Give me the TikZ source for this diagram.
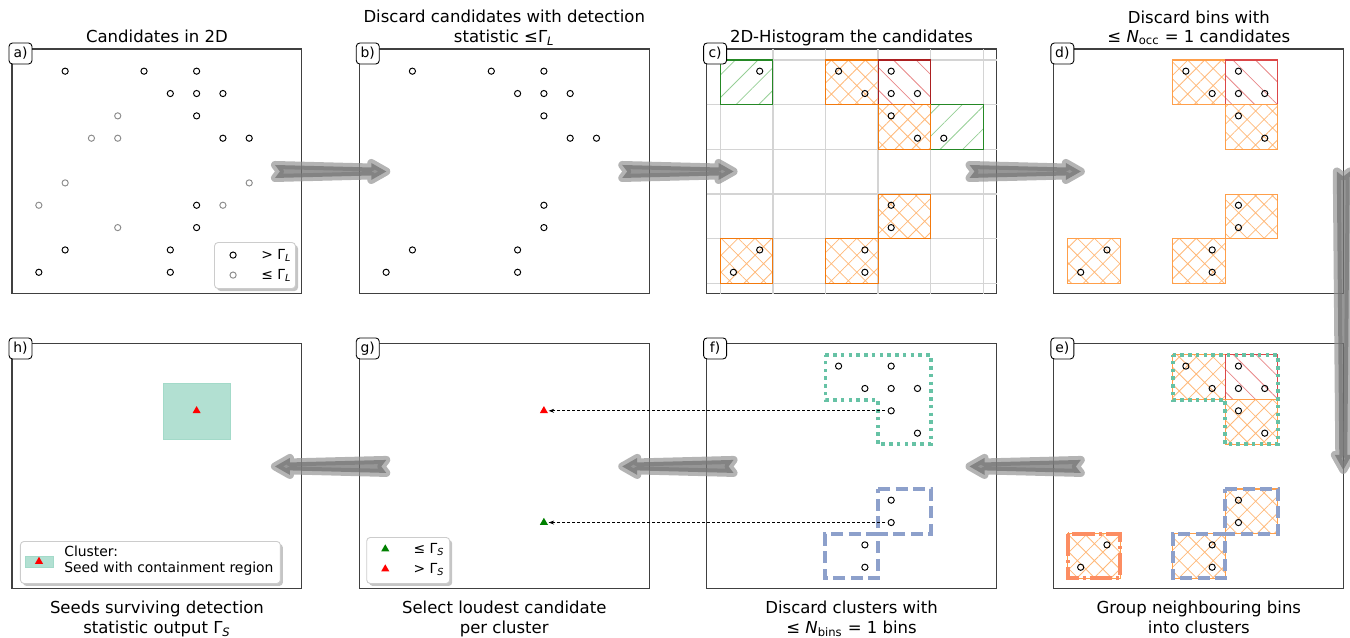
\documentclass[tikz,border=0pt]{standalone}
\usepackage{fontspec}
\setmainfont{DejaVu Sans}
\usetikzlibrary{positioning, calc, arrows.meta, shapes.geometric, patterns.meta, shadows}

\definecolor{binorange}{HTML}{FF7F0E}
\definecolor{binred}{HTML}{D62728}
\definecolor{bingreen}{HTML}{2CA02C}
\definecolor{clteal}{HTML}{66C2A5}
\definecolor{clblue}{HTML}{8DA0CB}
\definecolor{clsalmon}{HTML}{FC8D62}

% candidate positions (i/j on the half-bin grid)
\newcommand{\candhigh}{1/0,4/0,6/0,5/1,6/1,7/1,6/2,7/3,8/3,6/6,6/7,1/8,5/8,0/9,5/9}
\newcommand{\candlow}{3/2,2/3,3/3,1/5,8/5,0/6,7/6,3/7}
\newcommand{\candbins}{4/0,6/0,5/1,6/1,7/1,6/2,7/3,6/6,6/7,1/8,5/8,0/9,5/9}
\newcommand{\candclus}{4/0,6/0,5/1,6/1,7/1,6/2,7/3,6/6,6/7,5/8,5/9}

% big grey step arrow between two coordinates
\newcommand{\flowarrow}[2]{%
  \coordinate (fa-n) at ($(#1)!0.1cm!(#2)$);
  \coordinate (fa-b) at ($(#2)!0.3cm!(#1)$);
  \path[flow] ($(#1)!0.13cm!90:(#2)$) -- (fa-n) -- ($(#1)!0.13cm!-90:(#2)$)
    -- ($(fa-b)!0.08cm!-90:(#2)$) -- ($(fa-b)!0.17cm!-90:(#2)$) -- (#2)
    -- ($(fa-b)!0.17cm!90:(#2)$) -- ($(fa-b)!0.08cm!90:(#2)$) -- cycle;
}

\tikzset{
    panel/.style={
        rectangle, draw=black!75, line width=0.6pt,
        minimum width=5.8cm, minimum height=4.9cm,
        inner sep=0pt, outer sep=0pt
    },
    paneltag/.style={
        rectangle, rounded corners=2pt, draw=black, fill=white, line width=0.5pt,
        minimum width=0.46cm, minimum height=0.42cm, inner sep=0pt,
        font=\fontsize{7.9}{9}\selectfont
    },
    headline/.style={font=\fontsize{9.4}{11.2}\selectfont, align=center, inner sep=0pt},
    legendbox/.style={
        rectangle, rounded corners=2pt, draw=black!20, fill=white, line width=0.5pt,
        inner sep=0pt,
        drop shadow={shadow xshift=0.05cm, shadow yshift=-0.05cm, fill=black!45, opacity=0.5}
    },
    legendtext/.style={font=\fontsize{7.9}{9}\selectfont, inner sep=0pt, align=left},
    binframe/.style={shift={(#1.north west)}, xshift=0.274cm, yshift=-0.22cm, x=1.052cm, y=-0.894cm},
    candmark/.style={draw=black, line width=0.55pt},
    candfaint/.style={draw=black!45, line width=0.55pt},
    gridline/.style={draw=black!17, line width=0.8pt},
    binor/.style={
        draw=binorange!95!black, line width=0.6pt,
        pattern={Hatch[angle=45, distance=0.24cm, line width=0.45pt]}, pattern color=binorange!55
    },
    binrd/.style={
        draw=binred!80!black, line width=0.6pt,
        pattern={Lines[angle=-45, distance=0.32cm, line width=0.45pt]}, pattern color=binred!55
    },
    bingn/.style={
        draw=bingreen!85!black, line width=0.6pt,
        pattern={Lines[angle=45, distance=0.32cm, line width=0.45pt]}, pattern color=bingreen!50
    },
    binorlt/.style={binor, draw=binorange!75},
    binrdlt/.style={binrd, draw=binred!85},
    clusa/.style={draw=clteal, line width=0.075cm, dash pattern=on 0.07cm off 0.085cm},
    clusb/.style={draw=clblue, line width=0.08cm, dash pattern=on 0.24cm off 0.11cm},
    clusc/.style={draw=clsalmon, line width=0.08cm, dash pattern=on 0.45cm off 0.08cm on 0.06cm off 0.08cm},
    seedregion/.style={fill=clteal!50, draw=clteal!60, line width=0.3pt},
    seed/.style={regular polygon, regular polygon sides=3, minimum size=0.19cm, inner sep=0pt, outer sep=0pt},
    seedhi/.style={seed, fill=red},
    seedlo/.style={seed, fill=green!50!black},
    link/.style={
        draw=black, line width=0.5pt, dash pattern=on 0.06cm off 0.04cm,
        -{Stealth[length=0.11cm, width=0.08cm]}, shorten <=0.12cm, shorten >=0.04cm
    },
    flow/.style={
        fill=black!55, fill opacity=0.75,
        preaction={draw=black!42, line width=0.16cm, line join=round, draw opacity=0.7}
    }
}

\begin{document}
\begin{tikzpicture}[x=0.02cm, y=-0.02cm, node distance=1cm and 1.147cm]
\useasboundingbox (0,0) rectangle (1350,637);

% Panels (top row a-d, bottom row h-e)
\node[panel, anchor=north west] (pa) at (12,49) {};
\node[panel, right=of pa] (pb) {};
\node[panel, right=of pb] (pc) {};
\node[panel, right=of pc] (pd) {};
\node[panel, below=of pa] (ph) {};
\node[panel, right=of ph] (pg) {};
\node[panel, right=of pg] (pf) {};
\node[panel, right=of pf] (pe) {};

% Titles and captions
\node[headline, above=0.12cm of pa] (ha) {Candidates in 2D};
\node[headline, above=0.06cm of pb] (hb) {Discard candidates with detection\\statistic ≤Γ\textsubscript{\itshape L}};
\node[headline, above=0.05cm of pc] (hc) {2D-Histogram the candidates};
\node[headline, above=0.08cm of pd] (hd) {Discard bins with\\≤ \textit{N}\textsubscript{occ} = 1 candidates};
\node[headline, below=0.24cm of ph] (ch) {Seeds surviving detection\\statistic output Γ\textsubscript{\itshape S}};
\node[headline, below=0.24cm of pg] (cg) {Select loudest candidate\\per cluster};
\node[headline, below=0.24cm of pf] (cf) {Discard clusters with\\≤ \textit{N}\textsubscript{bins} = 1 bins};
\node[headline, below=0.24cm of pe] (ce) {Group neighbouring bins\\into clusters};

% a) all candidates
\begin{scope}[binframe=pa]
  \foreach \i/\j in \candhigh \draw[candmark] ({\i/2+0.25},{\j/2+0.25}) circle (0.062cm);
  \foreach \i/\j in \candlow \draw[candfaint] ({\i/2+0.25},{\j/2+0.25}) circle (0.062cm);
\end{scope}
\node[legendbox, anchor=south east, minimum width=1.62cm, minimum height=0.92cm] (la) at ([xshift=-0.12cm, yshift=0.1cm]pa.south east) {};
\draw[candmark] ([xshift=0.38cm, yshift=-0.26cm]la.north west) circle (0.062cm);
\draw[candfaint] ([xshift=0.38cm, yshift=-0.66cm]la.north west) circle (0.062cm);
\node[legendtext, anchor=west] (la1) at ([xshift=0.94cm, yshift=-0.27cm]la.north west) {> Γ\textsubscript{\itshape L}};
\node[legendtext, anchor=west] (la2) at ([xshift=0.94cm, yshift=-0.67cm]la.north west) {≤ Γ\textsubscript{\itshape L}};

% b) loud candidates only
\begin{scope}[binframe=pb]
  \foreach \i/\j in \candhigh \draw[candmark] ({\i/2+0.25},{\j/2+0.25}) circle (0.062cm);
\end{scope}

% c) histogram
\begin{scope}[binframe=pc]
  \foreach \gx in {0,...,5} {
    \draw[gridline] (\gx,-0.246) -- (\gx,5.235);
    \draw[gridline] (-0.26,\gx) -- (5.253,\gx);
  }
  \draw[bingn] (0,0) rectangle (1,1);
  \draw[bingn] (4,1) rectangle (5,2);
  \draw[binor] (2,0) rectangle (3,1);
  \draw[binrd] (3,0) rectangle (4,1);
  \draw[binor] (3,1) rectangle (4,2);
  \draw[binor] (3,3) rectangle (4,4);
  \draw[binor] (0,4) rectangle (1,5);
  \draw[binor] (2,4) rectangle (3,5);
  \foreach \i/\j in \candhigh \draw[candmark] ({\i/2+0.25},{\j/2+0.25}) circle (0.062cm);
\end{scope}

% d) occupied bins
\begin{scope}[binframe=pd]
  \draw[binorlt] (2,0) rectangle (3,1);
  \draw[binrdlt] (3,0) rectangle (4,1);
  \draw[binorlt] (3,1) rectangle (4,2);
  \draw[binorlt] (3,3) rectangle (4,4);
  \draw[binorlt] (0,4) rectangle (1,5);
  \draw[binorlt] (2,4) rectangle (3,5);
  \foreach \i/\j in \candbins \draw[candmark] ({\i/2+0.25},{\j/2+0.25}) circle (0.062cm);
\end{scope}

% e) clusters
\begin{scope}[binframe=pe]
  \draw[binorlt] (2,0) rectangle (3,1);
  \draw[binrdlt] (3,0) rectangle (4,1);
  \draw[binorlt] (3,1) rectangle (4,2);
  \draw[binorlt] (3,3) rectangle (4,4);
  \draw[binorlt] (0,4) rectangle (1,5);
  \draw[binorlt] (2,4) rectangle (3,5);
  \draw[clusa] (2,0) -- (4,0) -- (4,2) -- (3,2) -- (3,1) -- (2,1) -- cycle;
  \draw[clusb] (3,3) -- (4,3) -- (4,4) -- (3,4) -- (3,5) -- (2,5) -- (2,4) -- (3,4) -- cycle;
  \draw[clusc] (0,4) rectangle (1,5);
  \foreach \i/\j in \candbins \draw[candmark] ({\i/2+0.25},{\j/2+0.25}) circle (0.062cm);
\end{scope}

% f) surviving clusters
\begin{scope}[binframe=pf]
  \draw[clusa] (2,0) -- (4,0) -- (4,2) -- (3,2) -- (3,1) -- (2,1) -- cycle;
  \draw[clusb] (3,3) -- (4,3) -- (4,4) -- (3,4) -- (3,5) -- (2,5) -- (2,4) -- (3,4) -- cycle;
  \foreach \i/\j in \candclus \draw[candmark] ({\i/2+0.25},{\j/2+0.25}) circle (0.062cm);
  \coordinate (fhi) at (3.25,1.25);
  \coordinate (flo) at (3.25,3.75);
\end{scope}

% g) loudest per cluster
\begin{scope}[binframe=pg]
  \node[seedhi] (ghi) at (3.25,1.25) {};
  \node[seedlo] (glo) at (3.25,3.75) {};
\end{scope}
\draw[link] (fhi) -- (ghi);
\draw[link] (flo) -- (glo);
\node[legendbox, anchor=south west, minimum width=1.66cm, minimum height=0.92cm] (lg) at ([xshift=0.14cm, yshift=0.1cm]pg.south west) {};
\node[seedlo] (lg-lo) at ([xshift=0.38cm, yshift=-0.24cm]lg.north west) {};
\node[seedhi] (lg-hi) at ([xshift=0.38cm, yshift=-0.64cm]lg.north west) {};
\node[legendtext, anchor=west] (lg1) at ([xshift=0.94cm, yshift=-0.25cm]lg.north west) {≤ Γ\textsubscript{\itshape S}};
\node[legendtext, anchor=west] (lg2) at ([xshift=0.94cm, yshift=-0.65cm]lg.north west) {> Γ\textsubscript{\itshape S}};

% h) final seeds
\begin{scope}[binframe=ph]
  \fill[seedregion] (2.613,0.624) rectangle (3.887,1.876);
  \node[seedhi] (hseed) at (3.25,1.25) {};
\end{scope}
\node[legendbox, anchor=south west, minimum width=5.2cm, minimum height=0.84cm] (lh) at ([xshift=0.16cm, yshift=0.1cm]ph.south west) {};
\fill[seedregion] ([xshift=0.1cm, yshift=-0.3cm]lh.north west) rectangle ([xshift=0.66cm, yshift=-0.52cm]lh.north west);
\node[seedhi] (lh-seed) at ([xshift=0.38cm, yshift=-0.41cm]lh.north west) {};
\node[legendtext, anchor=west] (lh1) at ([xshift=0.88cm, yshift=-0.39cm]lh.north west) {Cluster:\\Seed with containment region};

% step arrows
\coordinate (ab0) at ([xshift=-0.54cm]pa.east);
\coordinate (ab1) at ([xshift=0.54cm]pb.west);
\coordinate (bc0) at ([xshift=-0.54cm]pb.east);
\coordinate (bc1) at ([xshift=0.54cm]pc.west);
\coordinate (cd0) at ([xshift=-0.54cm]pc.east);
\coordinate (cd1) at ([xshift=0.54cm]pd.west);
\coordinate (de0) at ([xshift=-0.01cm]pd.east);
\coordinate (de1) at ([xshift=-0.01cm, yshift=-0.07cm]pe.east);
\coordinate (ef0) at ([xshift=0.54cm]pe.west);
\coordinate (ef1) at ([xshift=-0.54cm]pf.east);
\coordinate (fg0) at ([xshift=0.54cm]pf.west);
\coordinate (fg1) at ([xshift=-0.54cm]pg.east);
\coordinate (gh0) at ([xshift=0.54cm]pg.west);
\coordinate (gh1) at ([xshift=-0.54cm]ph.east);
\foreach \src/\dst in {ab0/ab1, bc0/bc1, cd0/cd1, de0/de1, ef0/ef1, fg0/fg1, gh0/gh1} {
  \flowarrow{\src}{\dst}
}

% panel tags
\foreach \p/\q in {pa/a, pb/b, pc/c, pd/d, pe/e, pf/f, pg/g, ph/h}
  \node[paneltag] (tag-\q) at ([xshift=0.17cm, yshift=-0.09cm]\p.north west) {\q)};

\end{tikzpicture}
\end{document}
